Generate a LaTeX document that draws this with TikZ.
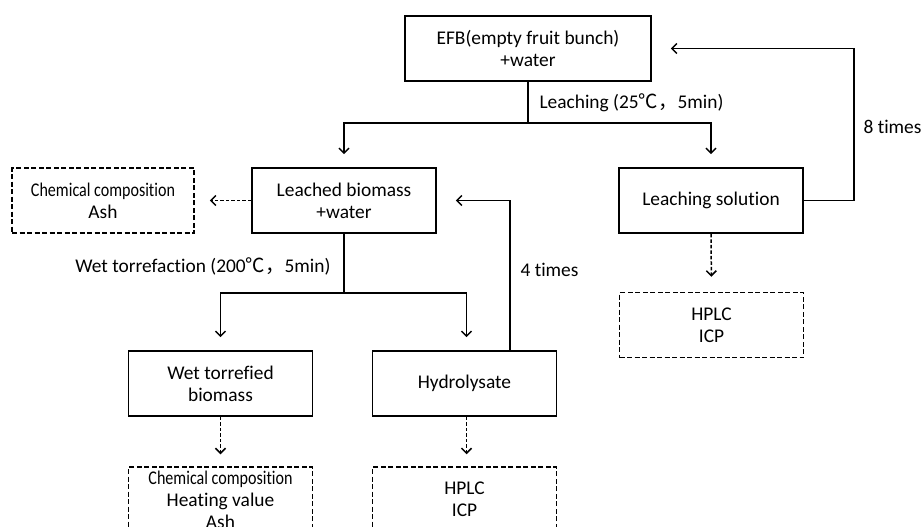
\documentclass[tikz,border=0pt]{standalone}
\usepackage{graphicx}
\usepackage{fontspec}
\setmainfont{Carlito}[Ligatures=NoCommon]
\newfontfamily\cjk{Noto Sans CJK SC}
\usetikzlibrary{arrows.meta,positioning}

\newcommand{\tightline}[1]{\resizebox{144pt}{\height}{#1}}

\tikzset{
    box/.style={draw, line width=1.7pt, minimum width=184pt, minimum height=65pt,
        inner sep=0pt, align=center},
    dbox/.style={box, line width=1.5pt, dash pattern=on 5pt off 2.5pt},
    link/.style={line width=1.5pt, -{Straight Barb[length=5pt,width=10pt]}},
    dlink/.style={link, dash pattern=on 3.5pt off 2pt},
}

\begin{document}
\begin{tikzpicture}[x=1pt, y=-1pt, font=\fontsize{19.4}{22}\selectfont]

\clip (0,0) rectangle (921,527);

% Boxes
\node[box, minimum width=246pt] (efb) at (528,48.5) {EFB(empty fruit bunch)\\+water};
\node[box] (leached) at (344,200.5) {Leached biomass\\+water};
\node[dbox, minimum width=182pt] (chemA) at (103,200.5) {\tightline{Chemical composition}\\Ash};
\node[box] (solution) at (711,200.5) {Leaching solution};
\node[dbox] (hplcA) at (711.5,325) {HPLC\\ICP};
\node[box] (wtb) at (220.5,383.5) {Wet torrefied\\biomass};
\node[box] (hydro) at (464.5,383.5) {Hydrolysate};
\node[dbox] (chemB) at (220.5,499.5) {\tightline{Chemical composition}\\Heating value\\Ash};
\node[dbox] (hplcB) at (464.5,499.5) {HPLC\\ICP};

% Leaching step
\coordinate (splitA) at (528,123);
\draw[line width=1.5pt] (efb.south) -- (splitA);
\draw[link, shorten >=13pt] (splitA) -| (leached.north);
\draw[link, shorten >=13pt] (splitA) -| (solution.north);
\node[anchor=west] (leachlabel) at (536,103) {Leaching (25{\cjk ℃，}5min)};

% Wet torrefaction step
\coordinate (splitB) at (344,293);
\draw[line width=1.5pt] (leached.south) -- (splitB);
\draw[link, shorten >=13pt] (splitB) -| (wtb.north);
\draw[link, shorten >=13pt] (splitB) -| ([xshift=2pt]hydro.north);
\node[anchor=east] (wetlabel) at (334,266) {Wet torrefaction (200{\cjk ℃，}5min)};

% Recycling loops
\draw[link, shorten >=19pt] (solution.east) -- ++(50,0) |- (efb.east);
\node[anchor=west] (eightlabel) at (860,127) {8 times};
\draw[link, shorten >=19pt] ([xshift=45.5pt]hydro.north) |- (leached.east);
\node[anchor=west] (fourlabel) at (517,270) {4 times};

% Analyses
\draw[dlink, shorten >=15pt] (leached.west) -- (chemA.east);
\draw[dlink, shorten >=15pt] (solution.south) -- (hplcA.north);
\draw[dlink, shorten >=12pt] (wtb.south) -- (chemB.north);
\draw[dlink, shorten >=12pt] ([xshift=2pt]hydro.south) -- ([xshift=2pt]hydro.south |- chemB.north);

\end{tikzpicture}
\end{document}
